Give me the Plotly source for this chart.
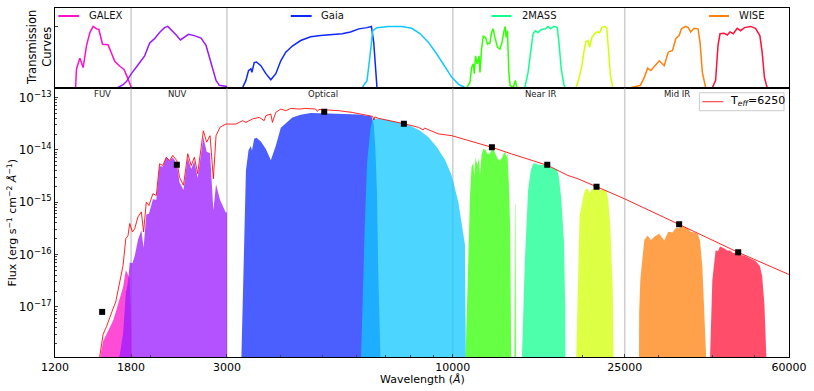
import numpy as np
import plotly.graph_objects as go

# -------------------------------------------------------------------------------- Dados
# Espectro modelo (Teff = 6250 K)
espectro_wave = [1520, 1551, 1579, 1607, 1636, 1659, 1695, 1725, 1750, 1771,
                 1787, 1813, 1835, 1867, 1901, 1924, 1952, 1980, 2022, 2059,
                 2095, 2132, 2171, 2210, 2248, 2297, 2330, 2380, 2435, 2480,
                 2522, 2567, 2646, 2693, 2742, 2791, 2831, 2892, 2985, 3148,
                 3260, 3320, 3438, 3563, 3659, 3692, 3791, 3823, 3893, 3998,
                 4105, 4216, 4405, 4565, 4813, 4861, 4900, 5076, 5448, 5847,
                 6278, 6520, 6563, 6600, 6737, 7362, 7762, 8329, 8542, 8600,
                 9263, 9948, 12290, 13670, 16610, 18470, 19480, 21650, 24960, 33110,
                 45520, 60000]
espectro_flux = [1.0e-18, 3.0e-18, 4.2e-18, 6.0e-18, 9.3e-18, 1.25e-17, 3.0e-17, 6.2e-17, 2.0e-16, 2.3e-16,
                 3.9e-16, 2.7e-16, 3.1e-16, 5.2e-16, 6.5e-16, 2.7e-16, 1.0e-15, 8.6e-16, 1.45e-15, 1.34e-15,
                 5.4e-15, 5.0e-15, 7.2e-15, 6.2e-15, 7.8e-15, 6.2e-15, 3.0e-15, 2.1e-15, 8.4e-15, 5.0e-15,
                 7.2e-15, 3.5e-15, 2.3e-14, 1.4e-14, 1.86e-14, 2.8e-15, 1.86e-14, 2.7e-14, 3.1e-14, 3.1e-14,
                 3.6e-14, 3.34e-14, 3.88e-14, 4.16e-14, 3.6e-14, 4.48e-14, 4.83e-14, 3.34e-14, 5.18e-14, 6.0e-14,
                 5.58e-14, 6.17e-14, 6.0e-14, 6.17e-14, 6.0e-14, 5.4e-14, 5.9e-14, 5.83e-14, 5.58e-14, 5.18e-14,
                 4.62e-14, 4.35e-14, 3.7e-14, 4.25e-14, 3.98e-14, 3.44e-14, 3.11e-14, 2.68e-14, 2.4e-14, 2.6e-14,
                 2.01e-14, 1.86e-14, 1.12e-14, 8.36e-15, 5.0e-15, 3.23e-15, 2.79e-15, 1.93e-15, 1.16e-15, 3.88e-16,
                 1.12e-16, 4.14e-17]

# Fotometria observada
fot_wave = [1543, 2297, 5039, 7704, 12316, 16544, 21510, 33410, 45770]
fot_flux = [8.0e-18, 5.15e-15, 5.34e-14, 3.15e-14, 1.12e-14, 5.15e-15, 1.96e-15, 3.76e-16, 1.10e-16]

# Curvas de transmissão (normalizadas)
fuv_wave = [1339, 1346, 1370, 1394, 1420, 1445, 1471, 1498, 1516, 1546, 1592, 1615, 1650, 1695, 1734, 1765, 1803]
fuv_trans = [0.0, 0.31, 0.48, 0.33, 0.69, 0.90, 1.0, 0.96, 0.95, 0.71, 0.70, 0.58, 0.43, 0.35, 0.30, 0.17, 0.0]

nuv_wave = [1674, 1725, 1756, 1803, 1867, 1935, 1988, 2040, 2095, 2151, 2189, 2229, 2289, 2342, 2393, 2444,
            2522, 2614, 2684, 2732, 2781, 2831, 2881, 3001]
nuv_trans = [0.0, 0.05, 0.10, 0.23, 0.37, 0.52, 0.73, 0.80, 0.90, 0.98, 1.0, 0.95, 0.86, 0.78, 0.82, 0.87,
             0.85, 0.81, 0.69, 0.50, 0.28, 0.12, 0.04, 0.02]

bp_wave = [3260, 3320, 3366, 3409, 3427, 3470, 3512, 3595, 3692, 3791, 3893, 3998, 4105, 4252, 4445, 4688,
           4943, 5257, 5544, 5797, 6059, 6331, 6480, 6560, 6620, 6676, 7400]
bp_trans = [0.0, 0.12, 0.28, 0.31, 0.25, 0.41, 0.42, 0.36, 0.23, 0.13, 0.23, 0.44, 0.58, 0.68, 0.77, 0.83,
            0.85, 0.86, 0.88, 0.91, 0.96, 0.98, 1.0, 0.74, 0.25, 0.0, 0.0]

rp_wave = [6166, 6331, 6446, 6525, 6676, 7102, 7623, 8038, 8404, 8783, 9180, 9598, 9948, 10300, 10673]
rp_trans = [0.0, 0.12, 0.58, 0.93, 0.98, 1.0, 1.0, 0.97, 0.88, 0.74, 0.55, 0.33, 0.17, 0.06, 0.0]

j_wave = [10764, 10960, 11053, 11153, 11213, 11290, 11393, 11496, 11557, 11656, 11761, 11906, 12033, 12187,
          12290, 12402, 12514, 12688, 12851, 13009, 13127, 13218, 13288, 13380, 13480, 13573, 13791, 13960, 14065]
j_trans = [0.0, 0.09, 0.33, 0.39, 0.23, 0.52, 0.39, 0.52, 0.25, 0.63, 0.84, 0.82, 0.71, 0.73,
           0.90, 0.96, 0.82, 0.66, 0.63, 0.75, 0.91, 1.0, 0.82, 0.93, 0.25, 0.04, 0.0, 0.12, 0.0]

h_wave = [12740, 14675, 14934, 15150, 15336, 15524, 15748, 16027, 16370, 16610, 16846, 17144, 17447, 17605,
          17821, 18078, 18204]
h_trans = [0.0, 0.0, 0.25, 0.63, 0.88, 0.93, 0.90, 0.95, 0.96, 1.0, 0.96, 1.0, 0.98, 0.74, 0.31, 0.05, 0.0]

ks_wave = [18900, 19300, 19654, 19895, 20107, 20322, 20539, 20725, 20980, 21283, 21578, 21855, 22123, 22442,
           22718, 22924, 23169, 23454]
ks_trans = [0.0, 0.0, 0.20, 0.36, 0.58, 0.75, 0.77, 0.66, 0.82, 0.88, 0.91, 0.90, 0.98, 1.0, 0.97, 0.63, 0.20, 0.0]

w1_wave = [25850, 27170, 27750, 28240, 28740, 29350, 30050, 30860, 31520, 32250, 32810, 33410, 33820, 34600,
           35050, 35530, 36180, 36950, 37350, 37810, 38480]
w1_trans = [0.0, 0.04, 0.17, 0.32, 0.28, 0.36, 0.44, 0.36, 0.58, 0.61, 0.80, 0.85, 0.96, 1.0,
            0.98, 0.91, 0.97, 0.96, 0.74, 0.25, 0.0]

w2_wave = [39870, 40580, 41100, 41540, 42430, 43180, 43810, 44580, 45520, 46340, 47330, 48870, 50180, 51370,
           52000, 52640, 53400, 55800]
w2_trans = [0.0, 0.12, 0.69, 0.88, 0.89, 0.86, 0.91, 0.88, 0.97, 0.93, 0.98, 1.0, 0.97, 0.85,
            0.58, 0.17, 0.0, 0.0]

# Fluxo do modelo visto por cada filtro (áreas preenchidas)
fuv_fill_wave = [1524, 1551, 1579, 1607, 1636, 1659, 1695, 1725, 1750, 1771, 1787, 1803]
fuv_fill_flux = [1.0e-18, 2.2e-18, 3.0e-18, 4.2e-18, 5.5e-18, 8.0e-18, 1.5e-17, 2.4e-17, 5.0e-17, 4.0e-17, 3.5e-17, 3.0e-18]

nuv_fill_wave = [1674, 1695, 1725, 1750, 1771, 1787, 1813, 1835, 1867, 1901, 1924, 1952, 1980, 2022, 2059,
                 2095, 2132, 2171, 2210, 2248, 2297, 2330, 2380, 2435, 2480, 2522, 2567, 2646, 2693, 2742,
                 2791, 2831, 2892, 2985, 3001]
nuv_fill_flux = [1.0e-18, 1.2e-18, 3.1e-18, 1.8e-17, 3.0e-17, 7.0e-17, 6.8e-17, 9.3e-17, 1.9e-16, 2.9e-16,
                 1.35e-16, 5.8e-16, 6.0e-16, 1.13e-15, 1.11e-15, 4.9e-15, 4.75e-15, 7.1e-15, 6.1e-15, 7.2e-15,
                 5.3e-15, 2.4e-15, 1.7e-15, 7.2e-15, 4.3e-15, 6.1e-15, 2.9e-15, 1.75e-14, 9.2e-15, 8.6e-15,
                 7.0e-16, 2.2e-15, 1.1e-15, 6.2e-16, 6.5e-16]

bp_fill_wave = [3240, 3320, 3366, 3409, 3427, 3470, 3512, 3595, 3692, 3791, 3893, 3998, 4105, 4252,
                4445, 4688, 4943, 5257, 5544, 5797, 6059, 6331, 6480, 6560, 6620, 6676, 6720, 6800]
bp_fill_flux = [1.0e-18, 4.0e-15, 9.8e-15, 1.18e-14, 9.6e-15, 1.62e-14, 1.7e-14, 1.44e-14, 1.03e-14, 6.3e-15,
                1.19e-14, 2.64e-14, 3.24e-14, 4.15e-14, 4.66e-14, 5.06e-14, 5.0e-14, 4.9e-14, 4.84e-14, 4.78e-14,
                4.7e-14, 4.46e-14, 4.35e-14, 3.15e-14, 1.04e-14, 1.5e-15, 5.0e-17, 1.0e-18]

rp_fill_wave = [6130, 6250, 6331, 6446, 6525, 6676, 7102, 7623, 8038, 8404, 8783, 9180, 9598, 9948,
                10300, 10673, 10760]
rp_fill_flux = [1.0e-18, 3.0e-16, 5.5e-15, 2.55e-14, 4.0e-14, 3.97e-14, 3.65e-14, 3.2e-14, 2.8e-14, 2.3e-14,
                1.74e-14, 1.13e-14, 6.4e-15, 3.2e-15, 1.0e-15, 1.5e-16, 1.0e-18]

j_fill_wave = [10700, 10960, 11053, 11153, 11213, 11290, 11393, 11496, 11557, 11656, 11761, 11906, 12033,
               12187, 12290, 12402, 12514, 12688, 12851, 13009, 13127, 13218, 13288, 13380, 13480, 13573,
               13650, 13880, 13930, 13960, 14000]
j_fill_flux = [1.0e-18, 1.35e-15, 4.8e-15, 5.5e-15, 3.2e-15, 7.1e-15, 5.2e-15, 6.8e-15, 3.25e-15, 8.0e-15,
               1.05e-14, 9.9e-15, 8.4e-15, 8.4e-15, 1.0e-14, 1.05e-14, 8.7e-15, 6.8e-15, 6.2e-15, 7.2e-15,
               8.55e-15, 9.2e-15, 7.4e-15, 8.3e-15, 2.2e-15, 3.4e-16, 1.0e-18, 1.0e-18, 9.0e-16, 9.6e-16, 1.0e-18]

h_fill_wave = [14450, 14675, 14934, 15150, 15336, 15524, 15748, 16027, 16370, 16610, 16846, 17144, 17447,
               17605, 17821, 18078, 18204, 18250]
h_fill_flux = [1.0e-18, 7.0e-17, 1.66e-15, 4.0e-15, 5.4e-15, 5.56e-15, 5.2e-15, 5.2e-15, 5.0e-15, 5.0e-15,
               4.56e-15, 4.46e-15, 4.1e-15, 3.0e-15, 1.2e-15, 1.84e-16, 1.0e-17, 1.0e-18]

ks_fill_wave = [19300, 19654, 19895, 20107, 20322, 20539, 20725, 20980, 21283, 21578, 21855, 22123, 22442,
                22718, 22924, 23169, 23454, 23700]
ks_fill_flux = [1.0e-18, 5.5e-16, 9.4e-16, 1.46e-15, 1.8e-15, 1.8e-15, 1.49e-15, 1.77e-15, 1.8e-15, 1.77e-15,
                1.67e-15, 1.74e-15, 1.69e-15, 1.57e-15, 9.9e-16, 3.0e-16, 2.0e-17, 1.0e-18]

w1_fill_wave = [26920, 27000, 27170, 27750, 28240, 28740, 29350, 30050, 30860, 31520, 32250, 32810, 33410,
                33820, 34600, 35050, 35530, 36180, 36950, 37350, 37810, 38300, 38600]
w1_fill_flux = [1.0e-18, 8.0e-18, 3.35e-17, 1.9e-16, 2.3e-16, 1.88e-16, 2.23e-16, 2.49e-16, 1.84e-16, 2.73e-16,
                2.62e-16, 3.2e-16, 3.18e-16, 3.43e-16, 3.27e-16, 3.05e-16, 2.68e-16, 2.67e-16, 2.43e-16, 1.8e-16,
                5.8e-17, 5.0e-18, 1.0e-18]

w2_fill_wave = [39390, 39870, 40580, 41100, 41540, 42430, 43180, 43810, 44580, 45520, 46340, 47330, 48870,
                50180, 51370, 52000, 52640, 53200]
w2_fill_flux = [1.0e-18, 3.2e-17, 1.2e-16, 1.15e-16, 1.42e-16, 1.32e-16, 1.19e-16, 1.19e-16, 1.07e-16, 1.09e-16,
                9.8e-17, 9.5e-17, 8.5e-17, 7.5e-17, 6.0e-17, 3.9e-17, 1.1e-17, 1.0e-18]

# Regiões espectrais
regioes_limites = [1800, 3000, 10000, 25000]
regioes_nomes = ['FUV', 'NUV', 'Optical', 'Near IR', 'Mid IR']
regioes_centros = [1545, 2300, 5000, 16000, 33000]

x_ticks = [1200, 1800, 3000, 10000, 25000, 60000]
y_ticks = [1e-17, 1e-16, 1e-15, 1e-14, 1e-13]

# -------------------------------------------------------------------------------- Filtros
filtros = [
    ('FUV', fuv_wave, fuv_trans, fuv_fill_wave, fuv_fill_flux, '#ff10c8'),
    ('NUV', nuv_wave, nuv_trans, nuv_fill_wave, nuv_fill_flux, '#9a1aff'),
    ('BP', bp_wave, bp_trans, bp_fill_wave, bp_fill_flux, '#0f28ff'),
    ('RP', rp_wave, rp_trans, rp_fill_wave, rp_fill_flux, '#10c8ff'),
    ('J', j_wave, j_trans, j_fill_wave, j_fill_flux, '#33ff05'),
    ('H', h_wave, h_trans, h_fill_wave, h_fill_flux, '#11ff8d'),
    ('Ks', ks_wave, ks_trans, ks_fill_wave, ks_fill_flux, '#d1ff05'),
    ('W1', w1_wave, w1_trans, w1_fill_wave, w1_fill_flux, '#ff800d'),
    ('W2', w2_wave, w2_trans, w2_fill_wave, w2_fill_flux, '#ff1138'),
]


def _rgba(cor_hex, alpha):
    r, g, b = int(cor_hex[1:3], 16), int(cor_hex[3:5], 16), int(cor_hex[5:7], 16)
    return f'rgba({r},{g},{b},{alpha})'


X_RANGE = [np.log10(1200), np.log10(60000)]
Y_RANGE = [np.log10(1.1e-18), np.log10(1.53e-13)]
T_MAX = 1.3
Y_DIV = 270 / 350  # fronteira entre os dois painéis

fig = go.Figure()

# Linhas verticais das regiões (nos dois painéis)
for lim in regioes_limites:
    fig.add_trace(go.Scatter(x=[lim, lim], y=[0, T_MAX], mode='lines', xaxis='x', yaxis='y',
                             line=dict(color='rgba(150,150,150,0.45)', width=1.6),
                             showlegend=False, hoverinfo='skip'))
    fig.add_trace(go.Scatter(x=[lim, lim], y=[1e-20, 1e-11], mode='lines', xaxis='x2', yaxis='y2',
                             line=dict(color='rgba(150,150,150,0.45)', width=1.6),
                             showlegend=False, hoverinfo='skip'))

# Curvas de transmissão + áreas preenchidas
for nome, wave, trans, f_wave, f_flux, cor in filtros:
    fig.add_trace(go.Scatter(x=wave, y=trans, mode='lines', xaxis='x', yaxis='y',
                             line=dict(color=cor, width=1.5), showlegend=False, name=nome))
    fig.add_trace(go.Scatter(x=[f_wave[0]] + f_wave + [f_wave[-1]],
                             y=[1e-20] + f_flux + [1e-20],
                             mode='lines', fill='toself', fillcolor=_rgba(cor, 0.75),
                             line=dict(width=0), xaxis='x2', yaxis='y2',
                             showlegend=False, name=nome, hoverinfo='skip'))

# Espectro modelo
COR_MODELO = 'rgba(255,0,0,0.85)'
fig.add_trace(go.Scatter(x=espectro_wave, y=espectro_flux, mode='lines', xaxis='x2', yaxis='y2',
                         line=dict(color=COR_MODELO, width=1),
                         name='T<sub><i>eff</i></sub>=6250', showlegend=False))

# Fotometria
fig.add_trace(go.Scatter(x=fot_wave, y=fot_flux, mode='markers', xaxis='x2', yaxis='y2',
                         marker=dict(symbol='square', size=6, color='black'),
                         showlegend=False))

# Legendas dos levantamentos (painel de cima)
levantamentos = [('GALEX', '#ff10c8', 0.0045, 0.0326, 0.043),
                 ('Gaia', '#0f28ff', 0.3212, 0.3497, 0.3596),
                 ('2MASS', '#11ff8d', 0.5947, 0.6218, 0.6332),
                 ('WISE', '#ff800d', 0.8911, 0.9182, 0.9294)]
y_leg = (357 - 15) / 350
for nome, cor, x0, x1, xt in levantamentos:
    fig.add_shape(type='line', xref='paper', yref='paper', x0=x0, x1=x1, y0=y_leg, y1=y_leg,
                  line=dict(color=cor, width=2))
    fig.add_annotation(text=nome, xref='paper', yref='paper', x=xt, y=y_leg, xanchor='left',
                       yanchor='middle', showarrow=False, font=dict(size=10, color='#111'))

# Legenda do modelo (caixa no canto superior direito)
fig.add_shape(type='rect', xref='paper', yref='paper', x0=0.8779, x1=0.9932, y0=0.7057, y1=0.7571,
              line=dict(color='#cccccc', width=1), fillcolor='rgba(255,255,255,0.8)', layer='above')
fig.add_shape(type='line', xref='paper', yref='paper', x0=0.8820, x1=0.9104, y0=0.7314, y1=0.7314,
              line=dict(color=COR_MODELO, width=1), layer='above')
fig.add_annotation(text='T<sub><i>eff</i></sub>=6250', xref='paper', yref='paper', x=0.9172, y=0.7330,
                   xanchor='left', yanchor='middle', showarrow=False, font=dict(size=11, color='black'))

# Nomes das regiões
for nome, centro in zip(regioes_nomes, regioes_centros):
    fig.add_annotation(text=nome, xref='x2', yref='paper', x=np.log10(centro), y=(357 - 93.7) / 350,
                       xanchor='center', yanchor='middle', showarrow=False,
                       font=dict(size=8.5, color='#222'))

# Títulos dos eixos
fig.add_annotation(text='Flux (erg s<sup>\u22121</sup> cm<sup>\u22122</sup> <i>Å</i><sup>\u22121</sup>)',
                   xref='paper', yref='paper', x=(12 - 55) / 737, y=(357 - 222) / 350,
                   textangle=-90, xanchor='center', yanchor='middle', showarrow=False,
                   font=dict(size=11, color='black'))
fig.add_annotation(text='Transmission<br>Curves', xref='paper', yref='paper',
                   x=(40 - 55) / 737, y=(357 - 47) / 350, textangle=-90,
                   xanchor='center', yanchor='middle', showarrow=False,
                   font=dict(size=11.5, color='black'))
fig.add_annotation(text='Wavelength (<i>Å</i>)', xref='paper', yref='paper',
                   x=0.5, y=(357 - 380) / 350, xanchor='center', yanchor='middle',
                   showarrow=False, font=dict(size=11, color='black'))

minor_x = [2000, 4000, 5000, 6000, 7000, 8000, 9000, 20000, 30000, 40000, 50000]
minor_y = [k * 10.0 ** e for e in range(-18, -12) for k in range(2, 10)]

eixo_base = dict(showline=True, mirror=True, linecolor='black', linewidth=1,
                 showgrid=False, zeroline=False)

fig.update_layout(
    width=814, height=391,
    margin=dict(l=55, r=22, t=7, b=34),
    plot_bgcolor='white', paper_bgcolor='white',
    font=dict(family='DejaVu Sans', size=11, color='black'),
    showlegend=False,
    xaxis=dict(domain=[0, 1], anchor='y', type='log', range=X_RANGE,
               showticklabels=False, ticks='', **eixo_base),
    yaxis=dict(domain=[Y_DIV, 1], anchor='x', range=[0, T_MAX], tickvals=[1],
               ticks='inside', ticklen=3, showticklabels=False, **eixo_base),
    xaxis2=dict(domain=[0, 1], anchor='y2', type='log', range=X_RANGE,
                tickvals=x_ticks, ticktext=[str(v) for v in x_ticks],
                ticks='inside', ticklen=3,
                minor=dict(tickvals=minor_x, ticks='inside', ticklen=2),
                tickfont=dict(size=11), **eixo_base),
    yaxis2=dict(domain=[0, Y_DIV], anchor='x2', type='log', range=Y_RANGE,
                tickvals=y_ticks,
                ticktext=['10<sup>\u2212%d</sup>' % (-int(round(np.log10(v)))) for v in y_ticks],
                ticks='inside', ticklen=3,
                minor=dict(tickvals=minor_y, ticks='inside', ticklen=2),
                tickfont=dict(size=12), **eixo_base),
)

# margem padrão do <body> desloca a figura; zerada para alinhar com a janela
fig.write_html("out.html", config={'displayModeBar': False},
               post_script="document.body.style.margin='0px';")
